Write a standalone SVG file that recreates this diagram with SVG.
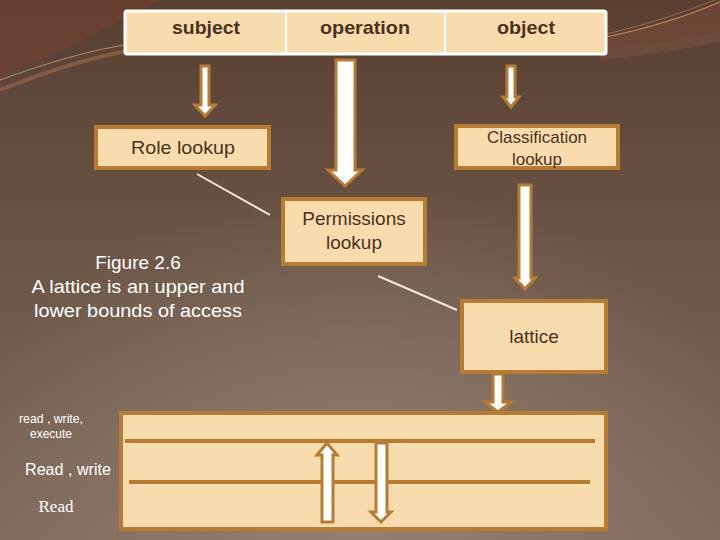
<svg xmlns="http://www.w3.org/2000/svg" width="720" height="540" viewBox="0 0 720 540">
<defs>
<linearGradient id="bg" x1="0" y1="0" x2="0" y2="1">
<stop offset="0" stop-color="#5a3f31"/>
<stop offset="0.45" stop-color="#6a5446"/>
<stop offset="1" stop-color="#7e685b"/>
</linearGradient>
<radialGradient id="glow" cx="0.5" cy="0.95" r="0.6">
<stop offset="0" stop-color="#9a8576" stop-opacity="0.8"/>
<stop offset="1" stop-color="#9a8576" stop-opacity="0"/>
</radialGradient>
<style>
.box{fill:#f9dcad;stroke:#b67c34;stroke-width:4}
.arr{fill:#ffffff;stroke:#b67c34;stroke-width:3;stroke-linejoin:miter}
.dk{font-family:"Liberation Sans",Arial,sans-serif;fill:#4a3221;text-anchor:middle}
.hd{font-family:"Liberation Sans",Arial,sans-serif;font-weight:bold;fill:#4a3221;text-anchor:middle;font-size:19px}
.wt{font-family:"Liberation Sans",Arial,sans-serif;fill:#ffffff;text-anchor:middle}
.ln{stroke:#f4e8e0;stroke-width:2;fill:none}
.bar{stroke:#b67c34;stroke-width:4}
</style>
</defs>
<rect width="720" height="540" fill="url(#bg)"/>
<rect width="720" height="540" fill="url(#glow)"/>
<!-- decorative swooshes -->
<path d="M0,0 L160,0 C120,20 70,50 0,75 Z" fill="#6e4232" opacity="0.7"/>
<path d="M0,80 C60,58 110,45 150,42" stroke="#c99a6a" stroke-width="1" fill="none" opacity="0.8"/>
<path d="M0,90 C60,66 110,52 150,48" stroke="#a87050" stroke-width="4" fill="none" opacity="0.5"/>
<path d="M606,38 C650,25 690,15 720,0 L720,30 C690,40 650,45 606,50 Z" fill="#7a4a38" opacity="0.6"/>
<path d="M606,37 C650,28 690,15 720,2" stroke="#e0a060" stroke-width="1" fill="none" opacity="0.8"/>
<path d="M606,34 C650,24 690,10 720,-2" stroke="#d09070" stroke-width="1" fill="none" opacity="0.5"/>
<path d="M720,30 C690,40 650,45 600,50 L600,60 C650,55 690,48 720,42 Z" fill="#8a5a48" opacity="0.4"/>

<g id="connectors">
<line class="ln" x1="197" y1="174" x2="270" y2="215"/>
<line class="ln" x1="378" y1="276" x2="457" y2="310"/>
<polygon class="arr" points="201,66 209,66 209,105 215,105 205,116 195,105 201,105"/>
<polygon class="arr" points="336,60 355,60 355,170 362,170 345,186 328,170 336,170"/>
<polygon class="arr" points="507,66 515,66 515,97 519,97 511,107 503,97 507,97"/>
<polygon class="arr" points="519,185 531,185 531,278 535,278 525,289 515,278 519,278"/>
<polygon class="arr" points="493,374 503,374 503,402 511,402 498,412 485,402 493,402"/>
</g>

<g id="header">
<rect x="125" y="11" width="481" height="43" fill="#f9dcad" stroke="#ffffff" stroke-width="3" rx="2"/>
<line x1="286" y1="11" x2="286" y2="54" stroke="#ffffff" stroke-width="2"/>
<line x1="445" y1="11" x2="445" y2="54" stroke="#ffffff" stroke-width="2"/>
<text class="hd" x="206" y="34" textLength="68" lengthAdjust="spacingAndGlyphs">subject</text>
<text class="hd" x="365" y="34" textLength="90" lengthAdjust="spacingAndGlyphs">operation</text>
<text class="hd" x="526" y="34" textLength="58" lengthAdjust="spacingAndGlyphs">object</text>
</g>

<g id="role-lookup">
<rect class="box" x="96" y="127" width="173" height="41"/>
<text class="dk" x="183" y="154" font-size="19" textLength="104" lengthAdjust="spacingAndGlyphs">Role lookup</text>
</g>

<g id="classification-lookup">
<rect class="box" x="456" y="126" width="162" height="42"/>
<text class="dk" x="537" y="143" font-size="17">Classification</text>
<text class="dk" x="537" y="165" font-size="17">lookup</text>
</g>

<g id="permissions-lookup">
<rect class="box" x="283" y="199" width="142" height="65"/>
<text class="dk" x="354" y="225" font-size="19">Permissions</text>
<text class="dk" x="354" y="249" font-size="19">lookup</text>
</g>

<g id="lattice">
<rect class="box" x="462" y="301" width="144" height="71"/>
<text class="dk" x="534" y="343" font-size="19">lattice</text>
</g>

<g id="caption">
<text class="wt" x="138" y="269" font-size="19">Figure 2.6</text>
<text class="wt" x="138" y="293" font-size="19" textLength="213" lengthAdjust="spacingAndGlyphs">A lattice is an upper and</text>
<text class="wt" x="138" y="317" font-size="19" textLength="208" lengthAdjust="spacingAndGlyphs">lower bounds of access</text>
</g>

<g id="levels">
<rect class="box" x="121" y="413" width="485" height="116"/>
<line class="bar" x1="125" y1="441" x2="595" y2="441"/>
<line class="bar" x1="129" y1="482" x2="590" y2="482"/>
<polygon class="arr" points="322,522 333,522 333,455 337,455 327,443 317,455 322,455"/>
<polygon class="arr" points="376,443 387,443 387,512 391,512 381,522 371,512 376,512"/>
</g>

<g id="level-labels">
<text class="wt" x="51" y="423" font-size="12" textLength="64" lengthAdjust="spacingAndGlyphs">read , write,</text>
<text class="wt" x="51" y="438" font-size="12" textLength="42" lengthAdjust="spacingAndGlyphs">execute</text>
<text class="wt" x="68" y="475" font-size="16" textLength="86" lengthAdjust="spacingAndGlyphs">Read , write</text>
<text x="56" y="512" font-size="17" fill="#ffffff" text-anchor="middle" font-family="Liberation Serif,serif">Read</text>
</g>
</svg>
